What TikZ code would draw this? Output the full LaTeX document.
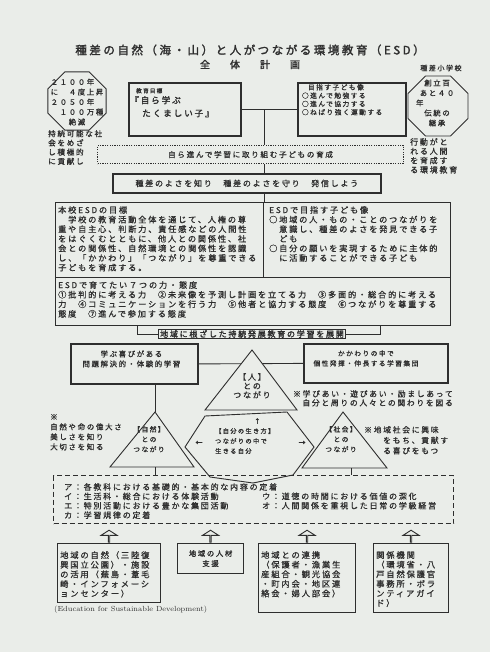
\documentclass[tikz,border=0pt]{standalone}
\usepackage{fontspec}
\usepackage{xcolor}
\usepackage{tikz}
\usetikzlibrary{positioning,calc,shapes.geometric,shapes.arrows}
\newfontfamily\jp[LetterSpace=22,FakeBold=1]{Noto Sans CJK JP}
\newfontfamily\jpb[LetterSpace=22,FakeBold=2]{Noto Sans CJK JP}
\definecolor{paper}{HTML}{EAEDE9}
\definecolor{ink}{HTML}{2E2E2E}

\begin{document}
\begin{tikzpicture}[x=1pt,y=-1pt,
  txt/.style={font=\jp\fontsize{8.3}{9.6}\selectfont,text=ink,align=left,inner sep=0pt,anchor=north west},
  txts/.style={txt,font=\jp\fontsize{6.7}{8.3}\selectfont},
  plainbox/.style={draw=ink,line width=0.9pt,fill=paper,text=ink,inner sep=0pt,anchor=north west},
  thickbox/.style={plainbox,line width=1.8pt},
  octa/.style={draw=ink,line width=0.9pt,regular polygon,regular polygon sides=8,inner sep=0pt},
  tri/.style={draw=ink,line width=0.9pt,fill=paper,line join=miter},
  wire/.style={draw=ink,line width=0.9pt},
  uparrow/.style={single arrow,draw=ink,fill=paper,line width=0.9pt,shape border rotate=90,minimum height=12pt,minimum width=16pt,single arrow head extend=4.5pt,single arrow tip angle=115,inner sep=0pt}]
  \fill[paper] (0,0) rectangle (490,652);
  \useasboundingbox (0,0) rectangle (490,652);

  \node[font=\jpb\fontsize{11.5}{12}\selectfont,text=ink,inner sep=0pt] (title) at (250,50) {種差の自然（海・山）と人がつながる環境教育（ESD）};
  \node[font=\jpb\fontsize{10}{12}\selectfont,text=ink,inner sep=0pt,below=4pt of title] (subtitle) {全\hspace{20pt}体\hspace{20pt}計\hspace{20pt}画};

  \node[octa,minimum size=63pt] (future) at (77,101) {};
  \node[txt,anchor=center,font=\jp\fontsize{7.4}{10}\selectfont] (futuretxt) at (77,102) {２１００年\\に　４度上昇\\２０５０年\\　１００万種\\　　絶滅};
  \node[txt,font=\jp\fontsize{7.6}{9.2}\selectfont] (aimL) at (48,130) {持続可能な社\\会をめざ\\し積極的\\に貢献し};

  \node[txt,anchor=center,font=\jp\fontsize{7}{10}\selectfont] (school) at (441,68) {種差小学校};
  \node[octa,minimum size=65pt] (tradition) at (438,106) {};
  \node[txt,anchor=center,align=center,font=\jp\fontsize{7.4}{10}\selectfont] (tradtxt) at (437,103) {創立百\\あと４０\\年\hphantom{あと４０}\\伝統の\\継承};
  \node[txt,font=\jp\fontsize{8}{9.3}\selectfont] (aimR) at (410,138) {行動がと\\れる人間\\を育成す\\る環境教育};

  \node[thickbox,minimum width=112pt,minimum height=53pt] (goal) at (128,82) {};
  \node[txt,font=\jp\fontsize{5.6}{7}\selectfont] (goalhead) at (136,88) {教育目標};
  \node[txt,font=\jpb\fontsize{8.6}{13}\selectfont] (goaltxt) at (130,96) {『自ら学ぶ\\\hspace*{12pt}たくましい子』};
  \node[thickbox,minimum width=108pt,minimum height=53pt,right=55pt of goal.north east,anchor=north west] (kids) {};
  \node[txts] (kidstxt) at ($(kids.north west)+(5,2)$) {\hspace*{6pt}目指す子ども像\\○進んで勉強する\\○進んで協力する\\○ねばり強く運動する};
  \coordinate (hub) at ($(goal.east)!0.41!(kids.west)$);
  \draw[wire] (goal.east) -- (kids.west);

  \node[plainbox,dash pattern=on 1.2pt off 1.2pt,line width=1.1pt,minimum width=306pt,minimum height=18pt,font=\jp\fontsize{7.6}{9}\selectfont] (ideal) at (97,145) {自ら進んで学習に取り組む子どもの育成};
  \node[thickbox,minimum width=268pt,minimum height=19pt,font=\jp\fontsize{8}{10}\selectfont] (motto) at (112,173) {種差のよさを知り　種差のよさを守り　発信しよう};

  \node[plainbox,minimum width=208pt,minimum height=75pt] (esdgoal) at (55,202) {};
  \node[plainbox,minimum width=187pt,minimum height=75pt] (esdkids) at (263,202) {};
  \node[plainbox,minimum width=395pt,minimum height=48pt] (power) at (55,277) {};
  \draw[wire] (hub) -- (hub |- ideal.north);
  \draw[wire] (hub |- ideal.south) -- (hub |- motto.north);
  \draw[wire] (hub |- motto.south) -- (hub |- esdgoal.north);

  \node[txt,font=\jp\fontsize{8.2}{9.6}\selectfont] (goalbody) at ($(esdgoal.north west)+(3,4)$) {本校ESDの目標\\　学校の教育活動全体を通じて、人権の尊\\重や自主心、判断力、責任感などの人間性\\をはぐくむとともに、他人との関係性、社\\会との関係性、自然環境との関係性を認識\\し、「かかわり」「つながり」を尊重できる\\子どもを育成する。};
  \node[txt,font=\jp\fontsize{8.2}{9.6}\selectfont] (kidsbody) at ($(esdkids.north west)+(6,4)$) {ESDで目指す子ども像\\○地域の人・もの・ことのつながりを\\　意識し、種差のよさを発見できる子\\　ども\\○自分の願いを実現するために主体的\\　に活動することができる子ども};
  \node[txt,font=\jp\fontsize{8.2}{9.6}\selectfont] (powerbody) at ($(power.north west)+(3,4)$) {ESDで育てたい７つの力・態度\\①批判的に考える力　②未来像を予測し計画を立てる力　③多面的・総合的に考える\\力　④コミュニケーションを行う力　⑤他者と協力する態度　⑥つながりを尊重する\\態度　⑦進んで参加する態度};

  \node[plainbox,anchor=center,line width=0.7pt,inner xsep=2pt,inner ysep=1pt,font=\jpb\fontsize{8}{9}\selectfont] (spread) at (252,334) {地域に根ざした持続発展教育の学習を展開};
  \coordinate (brL) at ($(power.south west)+(82,0)$);
  \coordinate (brR) at ($(power.south west)+(325,0)$);
  \draw[wire] (brL) |- (spread.west);
  \draw[wire] (spread.east) -| (brR);

  \node[thickbox,minimum width=127pt,minimum height=40pt] (learn) at (70,343) {};
  \node[txt,anchor=center,align=center,font=\jp\fontsize{7.4}{10}\selectfont] (learntxt) at ($(learn.center)+(-3,-5)$) {学ぶ喜びがある\\問題解決的・体験的学習};
  \node[thickbox,minimum width=144pt,minimum height=39pt] (relate) at (303,343) {};
  \node[txts,anchor=center,align=center,font=\jp\fontsize{6.7}{10}\selectfont] (relatetxt) at ($(relate.center)+(-10,-5)$) {かかわりの中で\\個性発揮・伸長する学習集団};
  \draw[wire] (learn.east) -- (relate.west);

  \coordinate (pplTop) at (252,350);
  \draw[tri] (pplTop) -- ++(45,60) -- ++(-92,0) -- cycle;
  \node[txt,anchor=north,align=center,font=\jp\fontsize{8}{9}\selectfont] (ppl) at ($(pplTop)+(0,23)$) {【人】\\との\\つながり};
  \node[txt,anchor=north east,align=right,font=\jp\fontsize{7.8}{9}\selectfont] (pplnote) at (453,390) {※学びあい・遊びあい・励ましあって\\自分と周りの人々との関わりを図る};

  \coordinate (natTop) at (155,412);
  \coordinate (natFoot) at ($(natTop)+(0,55)$);
  \draw[wire] (natTop |- learn.south) -- (natTop);
  \draw[tri] (natTop) -- ++(39,55) -- ++(-84,0) -- cycle;
  \node[txts,anchor=north,align=center,font=\jp\fontsize{6.7}{10}\selectfont] (nat) at ($(natTop)+(-6,14)$) {【自然】\\との\\つながり};
  \node[txt,font=\jp\fontsize{7.5}{10}\selectfont] (natnote) at (50,414) {※\\自然や命の偉大さ\\美しさを知り\\大切さを知る};

  \coordinate (socTop) at (343,412);
  \coordinate (socFoot) at ($(socTop)+(8,56)$);
  \draw[tri] (socTop) -- ++(44,56) -- ++(-85,0) -- cycle;
  \node[txts,anchor=north,align=center,font=\jp\fontsize{6.7}{10}\selectfont] (soc) at ($(socTop)+(-2,14)$) {【社会】\\との\\つながり};
  \node[txt,font=\jp\fontsize{7.8}{10.5}\selectfont] (socnote) at (364,426) {※地域社会に興味\\\hspace*{19pt}をもち、貢献す\\\hspace*{19pt}る喜びをもつ};

  \node[plainbox,dash pattern=on 5pt off 3pt,line width=1.3pt,minimum width=400pt,minimum height=48pt] (list) at (53,475) {};
  \draw[wire] (natFoot) -- (natFoot |- list.north);
  \draw[wire] (socFoot) -- (socFoot |- list.north);
  \node[txt,font=\jp\fontsize{8}{9.4}\selectfont] (listL) at ($(list.north west)+(11,8)$) {ア：各教科における基礎的・基本的な内容の定着\\イ：生活科・総合における体験活動\\エ：特別活動における豊かな集団活動\\カ：学習規律の定着};
  \node[txt,font=\jp\fontsize{8}{9.4}\selectfont] (listR) at ($(list.north west)+(209,17.4)$) {ウ：道徳の時間における価値の深化\\オ：人間関係を重視した日常の学級経営};

  \draw[wire] (205,416) -- (287,412) -- (314,447) -- (293,475) -- (253,483) -- (210,477) -- (185,447) -- cycle;
  \node[txt,font=\jp\fontsize{6.2}{10}\selectfont] (self) at (215,418) {\hspace*{39pt}↑\\【自分の生き方】\\つながりの中で\\生きる自分};
  \node[txt,anchor=center,font=\jp\fontsize{7}{8}\selectfont] (toNat) at (199,443) {←};
  \node[txt,anchor=center,font=\jp\fontsize{7}{8}\selectfont] (toSoc) at (302,443) {→};

  \node[plainbox,line width=1.1pt,minimum width=103pt,minimum height=59pt] (b1) at (57,543) {};
  \node[txt] (b1txt) at ($(b1.north west)+(3,8)$) {地域の自然（三陸復\\興国立公園）・施設\\の活用（蕪島・葦毛\\崎・インフォメーシ\\ョンセンター）};
  \node[plainbox,line width=1.1pt,minimum width=66pt,minimum height=30pt,align=center,font=\jp\fontsize{7.4}{10}\selectfont] (b2) at (177,543) {地域の人材\\支援};
  \node[plainbox,line width=1.1pt,minimum width=97pt,minimum height=69pt] (b3) at (258,543) {};
  \node[txt] (b3txt) at ($(b3.north west)+(3,8)$) {地域との連携\\（保護者・漁業生\\産組合・観光協会\\・町内会・地区連\\絡会・婦人部会）};
  \node[plainbox,line width=1.1pt,minimum width=75pt,minimum height=69pt] (b4) at (373,543) {};
  \node[txt] (b4txt) at ($(b4.north west)+(3,8)$) {関係機関\\（環境省・八\\戸自然保護官\\事務所・ボラ\\ンティアガイ\\ド）};

  \node[uparrow] (up1) at ($(b1.north)!0.35!(b1.north |- list.south)$) {};
  \node[uparrow] (up2) at ($(b2.north)!0.35!(b2.north |- list.south)$) {};
  \node[uparrow] (up3) at ($(b3.north)!0.35!(b3.north |- list.south)$) {};
  \node[uparrow] (up4) at ($(b4.north)!0.35!(b4.north |- list.south)$) {};

  \node[font=\fontsize{7.4}{8}\selectfont,text=ink,inner sep=0pt,anchor=west] (caption) at (54,610) {(Education for Sustainable Development)};
\end{tikzpicture}
\end{document}
